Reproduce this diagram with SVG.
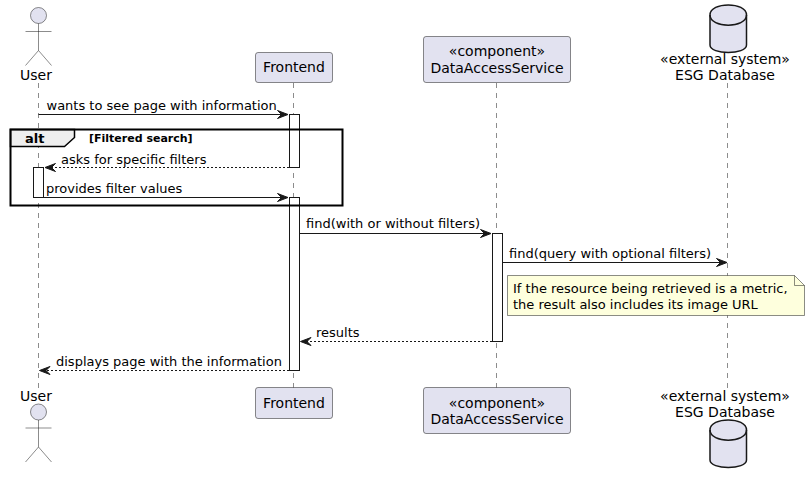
<svg xmlns="http://www.w3.org/2000/svg" width="809" height="482" viewBox="0 0 809 482">
<style>
text{font-family:"DejaVu Sans",sans-serif;font-size:14px;fill:#000}
.c{text-anchor:middle}
.m{font-size:13px}
.life{stroke:#181818;stroke-width:.5;stroke-dasharray:5 5;fill:none}
.part{fill:#E2E2F0;stroke:#181818;stroke-width:.5}
.act{fill:#fff;stroke:#181818;stroke-width:1}
.msg{stroke:#181818;stroke-width:1;fill:none}
.ret{stroke-dasharray:2 2}
.head{fill:#181818;stroke:#181818;stroke-width:1}
.db{fill:#E2E2F0;stroke:#181818;stroke-width:1.5}
.dbl{fill:none;stroke:#181818;stroke-width:1.5}
</style>
<defs>
<g id="actor" class="part"><circle cx="38.5" cy="15.5" r="8"/><path d="M38.500 23.500V50.500M25.500 31.500H51.500M38.500 50.500L25.500 65.500M38.500 50.500L51.500 65.500" fill="none"/></g>
<path id="hr" d="M-10.500 -4L0 0L-10.500 4L-6.500 0Z"/>
<path id="hl" d="M10.500 -4L0 0L10.500 4L6.500 0Z"/>
</defs>
<g id="lifelines">
<path class="life" d="M38.500 83V388M293.500 83V388M496.500 83V388M727.500 83V388"/>
</g>
<g id="node-user">
<use href="#actor"/>
<text class="c" x="36" y="80">User</text>
<text class="c" x="36" y="401">User</text>
<use href="#actor" y="396.500"/>
</g>
<g id="node-frontend">
<rect class="part" x="255.500" y="52.500" width="77" height="30" rx="2.500"/>
<text class="c" x="294" y="72">Frontend</text>
<rect class="part" x="255.500" y="387.500" width="77" height="31" rx="2.500"/>
<text class="c" x="294" y="408">Frontend</text>
</g>
<g id="node-das">
<rect class="part" x="423.500" y="36.500" width="147" height="46" rx="2.500"/>
<text class="c" x="497" y="56">«component»</text>
<text class="c" x="497" y="72.500">DataAccessService</text>
<rect class="part" x="423.500" y="387.500" width="147" height="46" rx="2.500"/>
<text class="c" x="497" y="407.500">«component»</text>
<text class="c" x="497" y="424">DataAccessService</text>
</g>
<g id="node-esg">
<path class="db" d="M710 15C710 1.500 746.500 1.500 746.500 15V45C746.500 55 710 55 710 45Z"/>
<path class="dbl" d="M710 15C710 28.500 746.500 28.500 746.500 15"/>
<text class="c" x="725" y="64">«external system»</text>
<text class="c" x="725" y="80">ESG Database</text>
<text class="c" x="725" y="400.500">«external system»</text>
<text class="c" x="725" y="417">ESG Database</text>
<path class="db" d="M710 430C710 416.500 746.500 416.500 746.500 430V460C746.500 470 710 470 710 460Z"/>
<path class="dbl" d="M710 430C710 443.500 746.500 443.500 746.500 430"/>
</g>
<g id="activations">
<rect class="act" x="289.500" y="114.500" width="10" height="53"/>
<rect class="act" x="33.500" y="167.500" width="10" height="30"/>
<rect class="act" x="289.500" y="197.500" width="10" height="173"/>
<rect class="act" x="492.500" y="233.500" width="10" height="108"/>
</g>
<g id="frame-alt">
<path d="M10.500 129.500H74.500V137.500L64.500 146.500H10.500Z" fill="#EEE" stroke="#000" stroke-width="1.500"/>
<rect x="10.500" y="129.500" width="332" height="76" fill="none" stroke="#000" stroke-width="2"/>
<text x="25" y="142.500" style="font-size:13px;font-weight:bold">alt</text>
<text x="89" y="142" style="font-size:11px;font-weight:bold">[Filtered search]</text>
</g>
<g id="connectors">
<path class="msg" d="M38.500 114.500H283"/><use class="head" href="#hr" x="288" y="114.500"/>
<text class="m" x="46.500" y="110">wants to see page with information</text>
<path class="msg ret" d="M289 167.500H50"/><use class="head" href="#hl" x="45" y="167.500"/>
<text class="m" x="61" y="163.500">asks for specific filters</text>
<path class="msg" d="M43.500 197.500H283"/><use class="head" href="#hr" x="288" y="197.500"/>
<text class="m" x="46" y="192.500">provides filter values</text>
<path class="msg" d="M299.500 233.500H486"/><use class="head" href="#hr" x="491" y="233.500"/>
<text class="m" x="306" y="228">find(with or without filters)</text>
<path class="msg" d="M502.500 262.500H722"/><use class="head" href="#hr" x="727" y="262.500"/>
<text class="m" x="509" y="257.500">find(query with optional filters)</text>
<path class="msg ret" d="M492 341.500H305"/><use class="head" href="#hl" x="300.500" y="341.500"/>
<text class="m" x="316" y="337">results</text>
<path class="msg ret" d="M289 370.500H44"/><use class="head" href="#hl" x="39.500" y="370.500"/>
<text class="m" x="56" y="366">displays page with the information</text>
</g>
<g id="note">
<path d="M507.500 275.500H794.500L804.500 285.500V315.500H507.500Z" fill="#FEFFDD" stroke="#181818" stroke-width=".5"/>
<path d="M794.500 275.500V285.500H804.500" fill="none" stroke="#181818" stroke-width=".5"/>
<text class="m" x="513" y="292.500">If the resource being retrieved is a metric,</text>
<text class="m" x="513" y="308.500">the result also includes its image URL</text>
</g>
</svg>
